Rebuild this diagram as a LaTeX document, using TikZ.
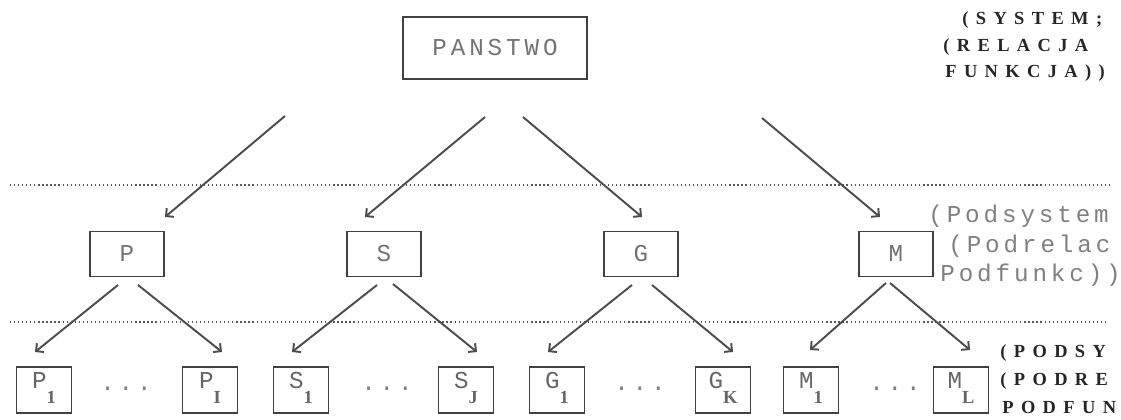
\documentclass[tikz,border=0pt]{standalone}
\usepackage{fontspec}
\usetikzlibrary{arrows.meta}
\newfontfamily\dotfont{Liberation Mono}[LetterSpace=16]
\newfontfamily\typefont{Liberation Serif}[LetterSpace=40]
\newcommand{\dottxt}{\dotfont\fontsize{13.8}{14}\selectfont}
\newcommand{\typetxt}{\typefont\bfseries\fontsize{10.5}{11}\selectfont}
\newcommand{\sublbl}[2]{\raisebox{0.04cm}{\dottxt #1}\raisebox{-0.26cm}{\typetxt #2}}

\begin{document}
\begin{tikzpicture}[x=0.02cm, y=-0.02cm,
    topbox/.style={draw=black!75, line width=0.8pt, minimum width=3.68cm, minimum height=1.24cm, inner sep=0pt, font=\dottxt, text=black!55},
    midbox/.style={draw=black!75, line width=0.8pt, minimum width=1.48cm, minimum height=0.9cm, inner sep=0pt, font=\dottxt, text=black!55},
    lowbox/.style={draw=black!75, line width=0.8pt, minimum width=1.1cm, minimum height=0.92cm, inner sep=0pt, text height=0pt, text depth=0pt, text=black!60},
    link/.style={-{Straight Barb[length=3.2pt,width=6.4pt]}, line width=1.1pt, black!70},
    level/.style={black!65, line width=0.8pt, dash pattern=on 0.7pt off 1.6pt},
    note/.style={anchor=base west, inner sep=0pt, font=\typetxt, text=black!85},
    dotnote/.style={anchor=base west, inner sep=0pt, font=\dottxt, text=black!50}]
	\useasboundingbox (0,0) rectangle (1121,419);

	% top
	\node[topbox] (panstwo) at (495,48) {PANSTWO};
	\node[note] (sys) at (962,24) {(SYSTEM;};
	\node[note] (rel) at (943,51) {(RELACJA};
	\node[note] (fun) at (945,77) {FUNKCJA))};

	\draw[level] (10,185) -- (1110,185);

	% subsystems
	\node[midbox] (p) at (127,254) {P};
	\node[midbox] (s) at (384,254) {S};
	\node[midbox] (g) at (641,254) {G};
	\node[midbox] (m) at (896,254) {M};
	\node[dotnote] (podsys) at (928,222) {(Podsystem};
	\node[dotnote] (podrel) at (948,252) {(Podrelac};
	\node[dotnote] (podfun) at (940,281) {Podfunkc))};

	\coordinate (pan-p) at (285,116); \coordinate (p-in) at (165,217);
	\coordinate (pan-s) at (485,117); \coordinate (s-in) at (365,217);
	\coordinate (pan-g) at (523,117); \coordinate (g-in) at (642,217);
	\coordinate (pan-m) at (762,118); \coordinate (m-in) at (880,217);

	\draw[link] (pan-p) -- (p-in);
	\draw[link] (pan-s) -- (s-in);
	\draw[link] (pan-g) -- (g-in);
	\draw[link] (pan-m) -- (m-in);

	\draw[level] (10,322) -- (1108,322);

	% lowest level
	\node[lowbox] (p1) at (44,390) {\sublbl{P}{1}};
	\node[lowbox] (pI) at (210,390) {\sublbl{P}{I}};
	\node[lowbox] (s1) at (301,390) {\sublbl{S}{1}};
	\node[lowbox] (sJ) at (466,390) {\sublbl{S}{J}};
	\node[lowbox] (g1) at (557,390) {\sublbl{G}{1}};
	\node[lowbox] (gK) at (723,390) {\sublbl{G}{K}};
	\node[lowbox] (m1) at (811,390) {\sublbl{M}{1}};
	\node[lowbox] (mL) at (961,390) {\sublbl{M}{L}};

	\node[dotnote, anchor=base] (pdots) at (126,390) {...};
	\node[dotnote, anchor=base] (sdots) at (387,390) {...};
	\node[dotnote, anchor=base] (gdots) at (640,390) {...};
	\node[dotnote, anchor=base] (mdots) at (895,390) {...};

	\node[note] (podsy) at (1000,357) {(PODSY};
	\node[note] (podre) at (1000,385) {(PODRE};
	\node[note] (podfu) at (1002,413) {PODFUN};

	\coordinate (p-l) at (118,285); \coordinate (p1-in) at (35,352);
	\coordinate (p-r) at (138,285); \coordinate (pI-in) at (222,352);
	\coordinate (s-l) at (377,285); \coordinate (s1-in) at (292,352);
	\coordinate (s-r) at (393,284); \coordinate (sJ-in) at (477,352);
	\coordinate (g-l) at (632,285); \coordinate (g1-in) at (548,352);
	\coordinate (g-r) at (652,285); \coordinate (gK-in) at (733,352);
	\coordinate (m-l) at (886,283); \coordinate (m1-in) at (810,350);
	\coordinate (m-r) at (890,283); \coordinate (mL-in) at (970,350);

	\draw[link] (p-l) -- (p1-in);
	\draw[link] (p-r) -- (pI-in);
	\draw[link] (s-l) -- (s1-in);
	\draw[link] (s-r) -- (sJ-in);
	\draw[link] (g-l) -- (g1-in);
	\draw[link] (g-r) -- (gK-in);
	\draw[link] (m-l) -- (m1-in);
	\draw[link] (m-r) -- (mL-in);

\end{tikzpicture}
\end{document}
